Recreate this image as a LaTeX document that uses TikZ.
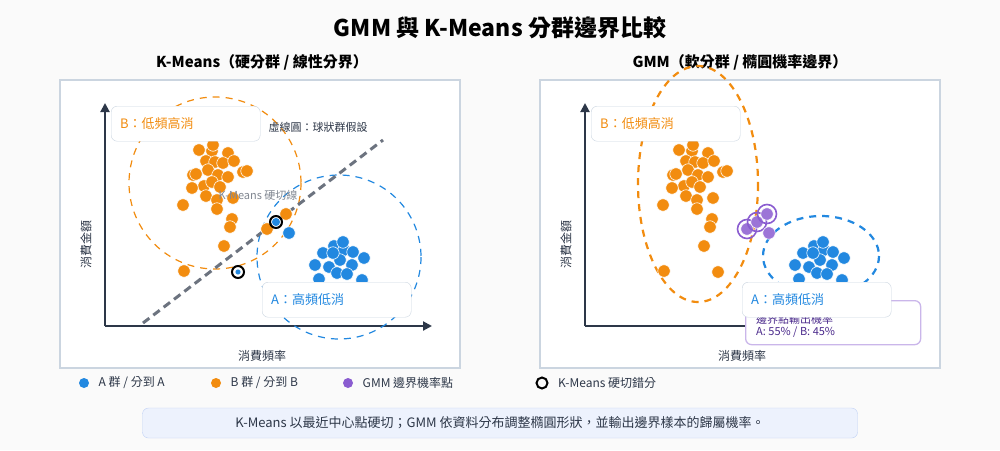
\documentclass[tikz,border=0pt]{standalone}
\usepackage{fontspec}
\setmainfont{Noto Sans CJK TC}
\usetikzlibrary{positioning, arrows.meta, backgrounds}

\definecolor{ink}{HTML}{2D3748}
\definecolor{frame}{HTML}{CBD5E0}
\definecolor{orangeB}{HTML}{F28C0F}
\definecolor{blueA}{HTML}{2288E0}
\definecolor{purpleG}{HTML}{8A5CD0}
\definecolor{purpleD}{HTML}{4B2A8C}
\definecolor{noteBg}{HTML}{EDF2FD}
\definecolor{noteBd}{HTML}{BFD0F5}

\newcommand{\fs}[1]{\fontsize{#1}{#1}\selectfont}

\begin{document}
\begin{tikzpicture}[
    x=1pt, y=-1pt,
    % --- STYLES ---
    panel/.style={draw=frame, line width=1.5pt, fill=white},
    axis/.style={draw=ink, line width=2pt, -{Triangle[length=9pt, width=9pt]}},
    ptO/.style={circle, fill=orangeB, draw=white, line width=0.6pt, inner sep=0pt, minimum size=12.5pt},
    ptA/.style={ptO, fill=blueA},
    ptP/.style={ptO, fill=purpleG!85},
    ringK/.style={circle, draw=black, line width=2pt, inner sep=0pt, minimum size=12pt},
    ringP/.style={circle, draw=purpleG, line width=1.6pt, inner sep=0pt, minimum size=19pt},
    tag/.style={draw=frame, fill=white, rounded corners=6pt, minimum width=149pt, minimum height=35pt, anchor=north west, text width=131pt, align=left, font=\fs{13}},
    hull/.style={dashed, line width=1.2pt, dash pattern=on 7pt off 6pt},
    legend/.style={anchor=west, font=\fs{12}, text=ink}
]
\useasboundingbox (0,0) rectangle (1000,450);
\fill[black!2] (0,0) rectangle (1000,450);

% --- TITLES ---
\node (title) at (500,28) {\fs{23}\bfseries GMM 與 K-Means 分群邊界比較};
\node (subL) at (262,62) {\fs{15}\bfseries K-Means（硬分群 / 線性分界）};
\node (subR) at (740,62) {\fs{15}\bfseries GMM（軟分群 / 橢圓機率邊界）};

% --- PANELS ---
\draw[panel] (60,80) rectangle (460,368);
\draw[panel] (540,80) rectangle (940,368);

% --- LEFT PANEL ---
\coordinate (oL) at (105,326);
\coordinate (yL) at (105,103);
\coordinate (xL) at (432,326);
\draw[axis] (oL) -- (yL);
\draw[axis] (oL) -- (xL);
\node[font=\fs{12}, text=ink] (xlabL) at (262,356) {消費頻率};
\node[font=\fs{12}, text=ink, rotate=90] (ylabL) at (86,244) {消費金額};

\draw[hull, orangeB] (215,183) circle (86);
\draw[hull, blueA] (339,257) circle (82);
\coordinate (cutS) at (143,323);
\coordinate (cutE) at (383,140);
\draw[line width=3pt, draw=ink!70, dash pattern=on 8pt off 5pt] (cutS) -- (cutE);

\foreach \x/\y in {199/150,212/151,228/153,206/161,215/162,223/163,234/161,208/170,218/175,228/177,243/172,247/171,193/175,196/174,204/186,212/182,220/187,192/188,206/196,217/200,233/198,183/205,217/209,232/219,230/227,224/246,184/271,267/229,286/214,213/145}
  \node[ptO] at (\x,\y) {};
\foreach \x/\y in {323/253,334/246,344/250,353/252,364/258,315/265,329/267,340/260,352/265,337/273,347/274,319/279,362/280,333/253,343/242,289/233}
  \node[ptA] at (\x,\y) {};
\node[ptA, minimum size=9pt] (errA) at (276,222) {};
\node[ringK] at (errA) {};
\node[ptA, minimum size=6pt] (errB) at (238,272) {};
\node[ringK] at (errB) {};

\node[font=\fs{11}, text=ink!60] (cutlab) at (258,195) {K-Means 硬切線};
\node[font=\fs{11}, text=ink] (hulllab) at (318,127) {虛線圓：球狀群假設};
\node[tag, text=orangeB] (tagBL) at (111,106) {B：低頻高消};
\node[tag, text=blueA] (tagAL) at (262,282) {A：高頻低消};

% --- RIGHT PANEL ---
\coordinate (oR) at (585,326);
\coordinate (yR) at (585,103);
\coordinate (xR) at (912,326);
\draw[axis] (oR) -- (yR);
\draw[axis] (oR) -- (xR);
\node[font=\fs{12}, text=ink] (xlabR) at (742,356) {消費頻率};
\node[font=\fs{12}, text=ink, rotate=90] (ylabR) at (566,244) {消費金額};

\draw[hull, orangeB, line width=2.2pt] (698,184) ellipse (60 and 118);
\draw[hull, blueA, line width=2.2pt] (821,256) ellipse (58 and 40);

\foreach \x/\y in {199/150,212/151,228/153,206/161,215/162,223/163,234/161,208/170,218/175,228/177,243/172,247/171,193/175,196/174,204/186,212/182,220/187,192/188,206/196,217/200,233/198,183/205,217/209,232/219,230/227,224/246,184/271,238/272,213/145}
  \node[ptO] at (\x+480,\y) {};
\foreach \x/\y in {323/253,334/246,344/250,353/252,364/258,315/265,329/267,340/260,352/265,337/273,347/274,319/279,362/280,333/253,343/242}
  \node[ptA] at (\x+480,\y) {};
\foreach \x/\y [count=\i] in {747/229,757/222,767/214}{
  \node[ptP] (gp\i) at (\x,\y) {};
  \node[ringP] at (gp\i) {};
}
\node[ptP] (gp4) at (769,233) {};

\node[tag, text=orangeB] (tagBR) at (591,106) {B：低頻高消};
\node[draw=purpleG!45, line width=1.3pt, fill=white, rounded corners=6pt, minimum width=175pt, minimum height=44pt, anchor=north west] (probbox) at (745,300) {};
\node[anchor=north west, text=purpleD, font=\fs{11}, align=left, inner sep=0pt] (problab) at (756,314) {邊界點輸出機率\\[1pt]A: 55\% / B: 45\%};
\node[tag, text=blueA] (tagAR) at (742,282) {A：高頻低消};

% --- LEGEND ---
\node[circle, fill=blueA, inner sep=0pt, minimum size=10pt] (lgA) at (84,383) {};
\node[legend, right=6pt of lgA] {A 群 / 分到 A};
\node[circle, fill=orangeB, inner sep=0pt, minimum size=10pt] (lgB) at (216,383) {};
\node[legend, right=6pt of lgB] {B 群 / 分到 B};
\node[circle, fill=purpleG, inner sep=0pt, minimum size=10pt] (lgP) at (348,383) {};
\node[legend, right=6pt of lgP] {GMM 邊界機率點};
\node[circle, draw=black, line width=2pt, inner sep=0pt, minimum size=11pt] (lgK) at (542,383) {};
\node[legend, right=6pt of lgK] {K-Means 硬切錯分};

% --- NOTE ---
\node[draw=noteBd, fill=noteBg, rounded corners=6pt, minimum width=715pt, minimum height=30pt, font=\fs{13}, text=ink] (note) at (500,423) {K-Means 以最近中心點硬切；GMM 依資料分布調整橢圓形狀，並輸出邊界樣本的歸屬機率。};

\end{tikzpicture}
\end{document}
